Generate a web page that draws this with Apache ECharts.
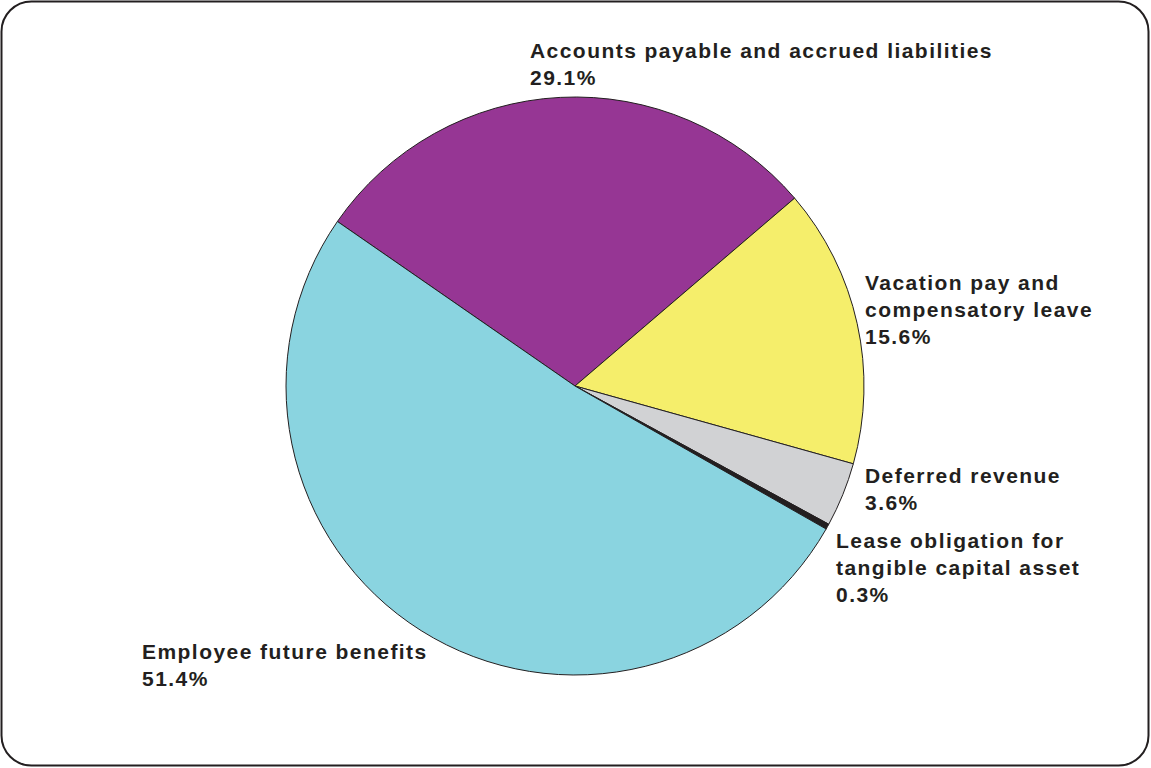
<!DOCTYPE html>
<html>
<head>
<meta charset="utf-8">
<script src="https://cdn.jsdelivr.net/npm/echarts@6/dist/echarts.min.js"></script>
<style>
  html, body { margin: 0; padding: 0; background: #ffffff; }
  #chart { width: 1151px; height: 768px; }
  /* wide tracking on the slice labels */
  #chart text { letter-spacing: 1.45px; }
</style>
</head>
<body>
<div id="chart"></div>
<script>
// Liabilities breakdown (percent of total)
const categories = [
  'Accounts payable and accrued liabilities',
  'Vacation pay and\ncompensatory leave',
  'Deferred revenue',
  'Lease obligation for\ntangible capital asset',
  'Employee future benefits'
];
const shares = [29.1, 15.6, 3.6, 0.3, 51.4];
const sliceColors = ['#963694', '#f5ee6b', '#d1d2d4', '#231f20', '#8ad4e0'];

// Top-left anchor of each label block
const labelAnchors = [
  [530, 37],
  [865, 268.5],
  [865, 462],
  [836, 527],
  [142, 638]
];

const chart = echarts.init(document.getElementById('chart'), null, { renderer: 'svg' });

chart.setOption({
  backgroundColor: '#ffffff',
  animation: false,
  graphic: [{
    type: 'rect',
    shape: { x: 1.5, y: 1.5, width: 1147, height: 764, r: 30 },
    style: { fill: 'none', stroke: '#231f20', lineWidth: 2 },
    silent: true
  }],
  series: [{
    type: 'pie',
    center: [575, 386],
    radius: 289,
    startAngle: 145.3,
    clockwise: true,
    avoidLabelOverlap: false,
    itemStyle: { borderColor: '#231f20', borderWidth: 1 },
    label: {
      show: true,
      position: 'outside',
      color: '#231f20',
      fontFamily: 'Liberation Sans',
      fontWeight: 'bold',
      fontSize: 21,
      lineHeight: 27,
      formatter: p => p.name + '\n' + p.value.toFixed(1) + '%'
    },
    labelLine: { show: false },
    labelLayout: p => ({
      x: labelAnchors[p.dataIndex][0],
      y: labelAnchors[p.dataIndex][1],
      align: 'left',
      verticalAlign: 'top'
    }),
    emphasis: { disabled: true },
    data: categories.map((name, i) => ({
      name: name,
      value: shares[i],
      itemStyle: { color: sliceColors[i] }
    }))
  }]
});
</script>
</body>
</html>
